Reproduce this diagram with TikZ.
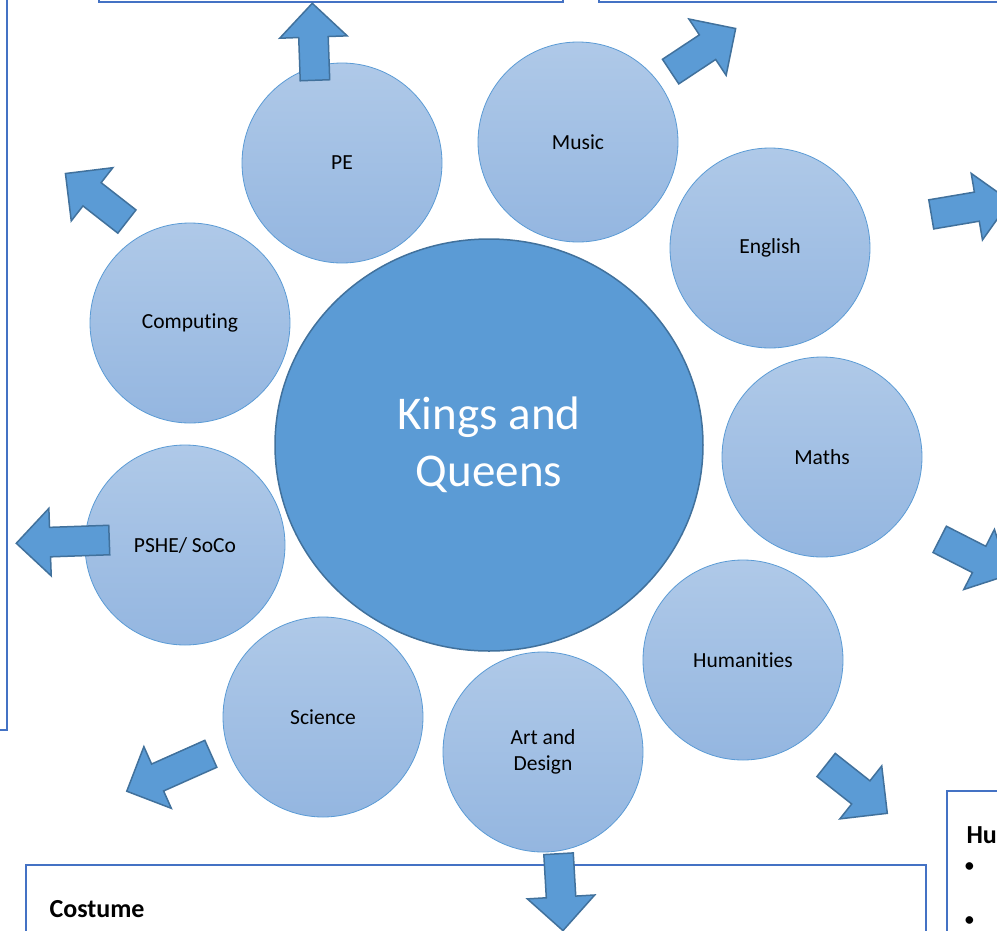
\documentclass[tikz,border=0pt]{standalone}
\usepackage{fontspec}
\setmainfont{Carlito}[Ligatures=NoCommon]
\usetikzlibrary{shapes.geometric,shapes.arrows}
\definecolor{bigblue}{HTML}{5B9BD5}
\definecolor{darkrim}{HTML}{41719C}
\definecolor{lighttop}{HTML}{AFC9E8}
\definecolor{lightbottom}{HTML}{94B6E0}
\definecolor{boxline}{HTML}{4472C4}

\begin{document}
\begin{tikzpicture}
  [x=1pt,y=-1pt,
   subject/.style={circle,minimum size=200pt,inner sep=0pt,draw=bigblue,line width=0.8pt,top color=lighttop,bottom color=lightbottom,align=center,font=\fontsize{21.5}{26.5}\selectfont},
   topic/.style={ellipse,minimum width=428pt,minimum height=412pt,inner sep=0pt,fill=bigblue,draw=darkrim,line width=1.5pt,text=white,align=center,font=\fontsize{47}{57}\selectfont},
   infobox/.style={rectangle,draw=boxline,line width=2pt,inner sep=0pt},
   bigarrow/.style={single arrow,anchor=tail,fill=bigblue,draw=darkrim,line width=1.5pt,inner sep=14pt,text height=0pt,text depth=0pt,single arrow head extend=19pt,minimum height=78pt}]
  \useasboundingbox (0,0) rectangle (997,930);
  \clip (0,0) rectangle (997,930);

  % boxes round the edge
  \node (pebox) [infobox,minimum width=464pt,minimum height=200pt,anchor=south west] at (98,3) {};
  \node (musicbox) [infobox,minimum width=500pt,minimum height=200pt,anchor=south west] at (598,3) {};
  \node (computingbox) [infobox,minimum width=200pt,minimum height=800pt,anchor=south east] at (8,731) {};
  \node (englishbox) [infobox,draw=boxline!45,line width=1pt,minimum width=200pt,minimum height=346pt,anchor=north west] at (996.5,52) {};
  \node (costumebox) [infobox,minimum width=900pt,minimum height=200pt,anchor=north west] at (25,864) {};
  \node (humbox) [infobox,minimum width=200pt,minimum height=300pt,anchor=north west] at (946,790) {};

  \node (costume) [anchor=base west,font=\fontsize{26}{30}\selectfont\bfseries] at (46,917) {Costume};
  \node (humtitle) [anchor=base west,font=\fontsize{26}{30}\selectfont\bfseries] at (963,843) {Hu};
  \node (bulletone) [anchor=base west,inner sep=0pt,font=\fontsize{21.5}{26}\selectfont] at (964,872) {\textbullet};
  \node (bullettwo) [anchor=base west,inner sep=0pt,font=\fontsize{21.5}{26}\selectfont] at (964,926) {\textbullet};

  % centre and subjects
  \node (kq) [topic] at (489,445) {Kings and\\Queens};
  \node (pe) [subject] at (342,163) {PE};
  \node (music) [subject] at (578,142) {Music};
  \node (english) [subject] at (770,248) {English};
  \node (maths) [subject] at (822,457) {Maths};
  \node (humanities) [subject] at (743,660) {Humanities};
  \node (art) [subject] at (543,752) {Art and\\Design};
  \node (science) [subject] at (323,717) {Science};
  \node (pshe) [subject] at (185,545) {PSHE/ SoCo};
  \node (computing) [subject] at (190,323) {Computing};

  % arrows out to the boxes (placed by their tails)
  \node (pearrow) [bigarrow,minimum height=77pt,rotate=92] at (315,81) {};
  \node (musicarrow) [bigarrow,rotate=33.5] at (670,72) {};
  \node (englisharrow) [bigarrow,minimum height=80pt,rotate=9.6] at (930.5,214.5) {};
  \node (mathsarrow) [bigarrow,rotate=-27] at (939,539) {};
  \node (humarrow) [bigarrow,rotate=-38.3] at (825.5,764.5) {};
  \node (artarrow) [bigarrow,minimum height=77pt,rotate=-86.7] at (558.5,853) {};
  \node (sciencearrow) [bigarrow,minimum height=92pt,rotate=-156] at (211.5,753.5) {};
  \node (pshearrow) [bigarrow,minimum height=93pt,rotate=182] at (110,540) {};
  \node (computingarrow) [bigarrow,rotate=142] at (127.5,222) {};
\end{tikzpicture}
\end{document}
